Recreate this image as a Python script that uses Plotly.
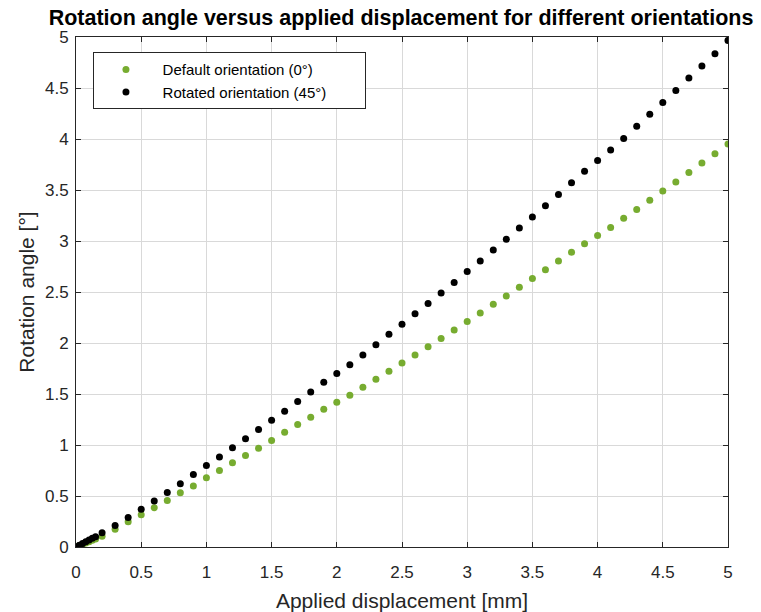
import plotly.graph_objects as go

# Applied displacement [mm]
disp = [0, 0.025, 0.05, 0.075, 0.1, 0.125, 0.15,
        0.2, 0.3, 0.4, 0.5, 0.6, 0.7, 0.8, 0.9, 1.0,
        1.1, 1.2, 1.3, 1.4, 1.5, 1.6, 1.7, 1.8, 1.9, 2.0,
        2.1, 2.2, 2.3, 2.4, 2.5, 2.6, 2.7, 2.8, 2.9, 3.0,
        3.1, 3.2, 3.3, 3.4, 3.5, 3.6, 3.7, 3.8, 3.9, 4.0,
        4.1, 4.2, 4.3, 4.4, 4.5, 4.6, 4.7, 4.8, 4.9, 5.0]

# Rotation angle [deg], default orientation (0 deg)
rot_default = [0, 0.013, 0.026, 0.039, 0.052, 0.065, 0.078,
               0.105, 0.175, 0.248, 0.317, 0.386, 0.455, 0.532, 0.597, 0.68,
               0.75, 0.825, 0.897, 0.969, 1.045, 1.124, 1.200, 1.272, 1.351, 1.42,
               1.487, 1.566, 1.645, 1.724, 1.803, 1.882, 1.963, 2.045, 2.128, 2.211,
               2.295, 2.379, 2.462, 2.547, 2.632, 2.718, 2.803, 2.889, 2.974, 3.055,
               3.133, 3.222, 3.310, 3.399, 3.491, 3.579, 3.671, 3.764, 3.855, 3.951]

# Rotation angle [deg], rotated orientation (45 deg)
rot_rotated = [0, 0.017, 0.034, 0.051, 0.068, 0.085, 0.10,
               0.14, 0.21, 0.29, 0.37, 0.45, 0.535, 0.62, 0.71, 0.80,
               0.883, 0.973, 1.062, 1.151, 1.243, 1.331, 1.427, 1.519, 1.614, 1.70,
               1.786, 1.882, 1.983, 2.085, 2.184, 2.286, 2.388, 2.490, 2.592, 2.70,
               2.803, 2.911, 3.017, 3.128, 3.236, 3.345, 3.457, 3.571, 3.684, 3.79,
               3.892, 4.006, 4.124, 4.242, 4.358, 4.476, 4.597, 4.715, 4.837, 4.966]

tick_vals = [0, 0.5, 1, 1.5, 2, 2.5, 3, 3.5, 4, 4.5, 5]
tick_text = ["0", "0.5", "1", "1.5", "2", "2.5", "3", "3.5", "4", "4.5", "5"]

FONT = "Liberation Sans, Arial, sans-serif"
PAD = "\u00a0" * 4
TAIL = "\u00a0" * 8

fig = go.Figure()
fig.add_trace(go.Scatter(x=disp, y=rot_default, mode="markers",
                         name=PAD + "Default orientation (0°)" + TAIL,
                         marker=dict(color="#77AC30", size=7)))
fig.add_trace(go.Scatter(x=disp, y=rot_rotated, mode="markers",
                         name=PAD + "Rotated orientation (45°)" + TAIL,
                         marker=dict(color="#000000", size=7)))

axis_common = dict(
    range=[0, 5], tickvals=tick_vals, ticktext=tick_text,
    showgrid=True, gridcolor="#d9d9d9", gridwidth=1,
    showline=True, linecolor="#262626", linewidth=1, mirror="ticks",
    ticks="inside", ticklen=5, tickcolor="#262626",
    zeroline=False, automargin=False,
    tickfont=dict(family=FONT, size=17, color="#262626"),
)

fig.update_layout(
    width=761, height=612,
    margin=dict(l=76, r=33, t=37, b=65),
    paper_bgcolor="white", plot_bgcolor="white",
    title=dict(text="<b>Rotation angle versus applied displacement for different orientations</b>",
               x=0.527, xanchor="center", y=0.972, yanchor="middle",
               font=dict(family=FONT, size=21.5, color="#000000")),
    xaxis=dict(**axis_common, ticklabelstandoff=10,
               title=dict(text="Applied displacement [mm]", standoff=11,
                          font=dict(family=FONT, size=21, color="#262626"))),
    yaxis=dict(**axis_common, ticklabelstandoff=3,
               title=dict(text="Rotation angle [°]", standoff=4,
                          font=dict(family=FONT, size=21, color="#262626"))),
    legend=dict(x=0.026, y=0.97, xanchor="left", yanchor="top",
                bgcolor="white", bordercolor="#262626", borderwidth=1,
                font=dict(family=FONT, size=15, color="#000000"),
                indentation=12, tracegroupgap=0),
    showlegend=True,
)

fig.write_html("out.html")
